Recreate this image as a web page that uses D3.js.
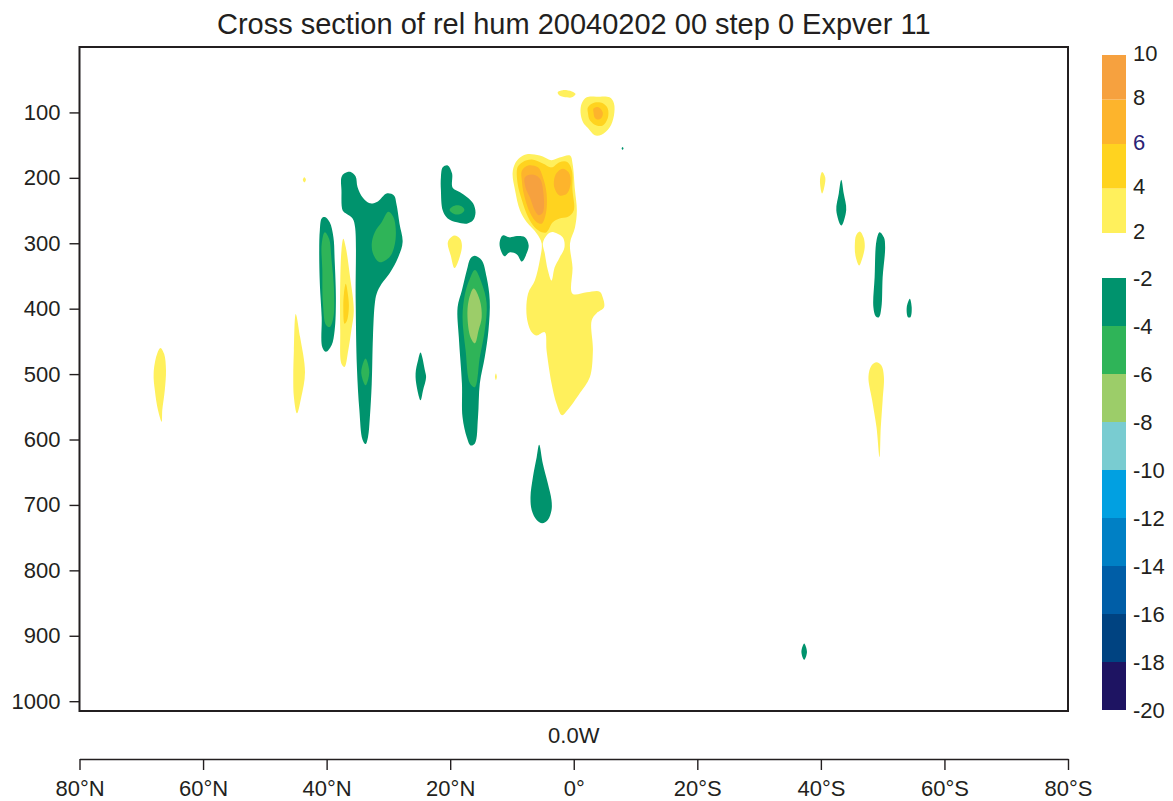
<!DOCTYPE html>
<html>
<head>
<meta charset="utf-8">
<script src="https://cdn.jsdelivr.net/npm/d3@7"></script>
<style>
  body { margin: 0; background: #fff; }
  text { font-family: "Liberation Sans", Arial, Helvetica, sans-serif; fill: #231f20; }
</style>
</head>
<body>
<div id="chart"></div>
<script>
// ---- colour bands ----
const posLevels = [2, 4, 6, 8, 10];
const posColours = ["#fff05c", "#ffd31f", "#fdb42c", "#f6a13f"];
const negLevels = [-20, -18, -16, -14, -12, -10, -8, -6, -4, -2];
const negColours = ["#1e1462", "#004381", "#005ea7", "#0080c5", "#01a0e1",
                    "#79ccd1", "#9ccd69", "#2fb458", "#00936d"];

// ---- axis ticks ----
const latTicks = [80, 60, 40, 20, 0, -20, -40, -60, -80];
const pressureTicks = [100, 200, 300, 400, 500, 600, 700, 800, 900, 1000];

// ---- contour outlines: [latitude (N +), pressure hPa] ----
// positive bands (2..4, 4..6, 6..8, 8..10)
const eqYellow = [[9.5,178],[8.7,169],[7.6,164],[5.5,166],[3.6,173],[2.3,169],[0.6,166],[0.2,178],
  [-0.2,219],[-0.5,250],[-0.2,276],[0.6,300],[0.2,337],[0.2,377],[-2.1,375],[-4.2,374],[-4.7,383],
  [-4.9,398],[-3.7,407],[-2.9,418],[-3.1,464],[-2.6,505],[-1.0,529],[1.0,555],[1.9,563],[2.8,545],
  [3.6,514],[4.4,464],[4.7,436],[6.0,441],[6.8,436],[7.6,413],[7.4,377],[6.3,357],[5.5,326],
  [5.2,300],[6.0,285],[7.6,268],[8.7,250],[9.5,219],[9.9,193]];
const eqYellowHole = [[3.6,283],[1.8,291],[1.5,306],[2.3,322],[3.1,337],[3.6,357],[4.2,341],
  [4.7,315],[5.0,300],[4.4,288]];
const eqGold = [[9.1,184],[8.3,176],[6.8,172],[5.0,178],[3.6,184],[2.3,176],[1.0,176],[0.3,189],
  [0.2,219],[0.0,250],[1.0,260],[2.3,262],[3.4,268],[4.4,283],[5.2,283],[6.3,276],[7.4,260],
  [8.4,234],[9.1,208]];
const eqOrangeW = [[8.4,189],[7.4,181],[5.8,184],[5.0,199],[4.4,224],[4.5,254],[5.2,270],[6.0,268],
  [7.1,253],[8.1,224],[8.4,204]];
const eqOrangeE = [[2.8,193],[1.8,186],[0.8,192],[0.5,208],[1.1,224],[2.3,227],[3.1,216],[3.2,204]];
const eqCore = [[7.9,199],[6.8,195],[5.5,201],[4.9,224],[5.0,253],[5.7,257],[6.3,250],[7.1,230],[7.8,215]];

const upperYellow = [[-1.3,86],[-2.1,77],[-3.7,76],[-5.8,77],[-6.5,86],[-6.5,105],[-5.8,123],
  [-4.5,134],[-3.4,135],[-2.3,124],[-1.5,115],[-1.1,100]];
const upperGold = [[-2.3,92],[-3.4,85],[-4.7,86],[-5.5,94],[-5.5,109],[-4.7,120],[-3.7,120],
  [-2.6,112],[-2.3,101]];
const upperOrange = [[-3.2,94],[-4.0,92],[-4.7,100],[-4.5,108],[-3.9,111],[-3.4,108],[-3.2,100]];
const upperFleck = [[2.6,69],[1.8,66],[0.3,68],[-0.3,72],[0.3,77],[1.1,77],[2.3,74]];

const yellow37N = [[37.3,293],[36.9,306],[36.2,352],[35.6,403],[36.0,433],[36.5,464],[37.1,489],
  [37.6,484],[37.8,433],[37.8,362],[37.6,311]];
const gold37N = [[36.9,362],[36.5,382],[36.4,398],[36.7,418],[37.1,423],[37.3,398],[37.2,377]];
const yellow45N = [[45.0,408],[44.3,443],[43.5,497],[44.1,535],[44.8,560],[45.3,535],[45.4,504],[45.3,464]];
const yellow67N = [[66.9,460],[66.3,469],[66.0,494],[66.2,525],[66.6,555],[66.7,573],[67.3,555],
  [67.8,525],[68.0,499],[67.5,471]];
const yellowDot44N = [[43.85,203],[43.6,199],[43.35,203],[43.6,207]];
const yellow19N = [[19.3,288],[18.4,293],[18.1,303],[18.4,319],[19.3,338],[19.9,319],[20.4,300],[20.1,293]];
const yellowDot13N = [[12.75,504],[12.6,499],[12.45,504],[12.6,509]];
const yellow40S = [[-40.2,191],[-40.7,199],[-40.6,212],[-40.2,224],[-39.9,212],[-39.9,199]];
const yellow46S = [[-46.3,282],[-46.9,291],[-47.1,306],[-46.6,326],[-46.2,334],[-45.6,319],
  [-45.5,301],[-45.7,288]];
const yellow49S = [[-49.0,482],[-49.8,487],[-50.2,504],[-50.0,540],[-49.7,581],[-49.5,627],
  [-49.0,581],[-48.3,540],[-47.7,504],[-48.2,487]];

// negative bands (-2..-4, -4..-6, -6..-8)
const green34N = [[37.6,199],[37.1,193],[36.1,191],[35.3,198],[35.0,214],[34.1,231],[33.0,239],
  [31.7,236],[30.3,224],[29.1,227],[28.7,240],[28.2,270],[27.7,298],[28.4,321],[29.8,346],
  [31.1,362],[31.9,377],[32.2,392],[32.5,443],[32.7,515],[33.0,566],[33.3,596],[33.7,607],
  [34.2,600],[34.7,555],[35.1,489],[35.3,387],[35.4,275],[35.8,262],[36.8,255],[37.4,250],[37.6,219]];
const green30Ninner = [[30.0,252],[29.2,260],[28.8,280],[29.0,303],[29.8,321],[31.4,329],[32.4,318],
  [32.7,301],[32.2,283],[31.1,268]];
const green34Ninner = [[33.7,476],[33.1,497],[33.7,517],[34.4,497]];
const green40N = [[40.8,262],[40.3,260],[39.5,268],[38.9,291],[38.7,326],[38.5,387],[38.7,433],
  [39.2,456],[40.1,466],[40.7,459],[40.8,413],[41.1,362],[41.2,311],[41.1,280]];
const green40Ninner = [[40.3,283],[39.6,293],[39.2,326],[38.8,372],[38.9,413],[39.5,428],[40.1,425],
  [40.6,392],[40.7,341],[40.8,301]];
const green25N = [[24.8,467],[24.1,494],[23.9,505],[24.4,525],[24.8,540],[25.4,520],[25.6,499],[25.2,479]];
const green19N = [[21.2,184],[20.4,181],[19.7,193],[19.6,215],[18.4,222],[17.2,230],[16.3,239],
  [15.9,253],[16.3,265],[17.3,270],[18.9,268],[20.4,262],[21.2,250],[21.5,219],[21.5,199]];
const green19Ninner = [[20.1,249],[19.6,244],[18.9,242],[18.1,244],[17.7,249],[18.1,254],[18.9,256],[19.6,254]];
const green16N = [[16.0,319],[14.9,326],[14.1,352],[13.6,387],[13.8,433],[14.4,474],[15.2,514],
  [15.5,566],[16.0,606],[16.7,609],[17.3,597],[18.0,566],[18.1,514],[18.6,444],[18.8,398],
  [18.1,372],[17.3,341],[16.7,323]];
const green16Nmid = [[16.0,341],[14.9,361],[14.1,392],[14.4,433],[15.2,474],[16.0,520],[16.8,514],
  [17.5,464],[18.0,413],[17.6,377],[16.8,354]];
const green16Ncore = [[16.2,369],[15.2,387],[14.9,413],[15.4,433],[16.0,453],[16.7,444],[17.2,413],[17.0,387]];
const green10N = [[11.5,288],[10.4,291],[9.2,289],[7.9,291],[7.3,303],[7.6,315],[8.4,328],[9.2,317],
  [10.4,314],[11.2,320],[11.8,311],[12.0,299]];
const green5N = [[5.6,608],[5.0,637],[4.2,667],[3.6,693],[3.6,708],[4.2,723],[5.1,728],[6.0,723],
  [6.8,708],[7.0,688],[6.6,657],[6.0,627]];
const greenDot8S = [[-7.75,155],[-7.9,153],[-8.05,155],[-7.9,157]];
const green43S = [[-43.3,203],[-43.7,224],[-44.1,249],[-43.3,273],[-42.5,250],[-42.9,224]];
const green49S = [[-49.5,283],[-50.2,291],[-50.4,306],[-50.0,352],[-49.8,398],[-49.4,413],
  [-48.9,412],[-48.5,398],[-48.7,352],[-49.0,296]];
const green54S = [[-54.4,385],[-54.7,398],[-54.5,413],[-54.1,413],[-53.9,398]];
const green37S = [[-37.3,912],[-37.75,925],[-37.3,937],[-36.85,925]];

// band value for each outline (draw order: outer first)
const regions = [
  { value: 3, rings: [eqYellow, eqYellowHole] },
  { value: 3, rings: [upperYellow] },
  { value: 3, rings: [upperFleck] },
  { value: 3, rings: [yellow37N] },
  { value: 3, rings: [yellow45N] },
  { value: 3, rings: [yellow67N] },
  { value: 3, rings: [yellowDot44N] },
  { value: 3, rings: [yellow19N] },
  { value: 3, rings: [yellowDot13N] },
  { value: 3, rings: [yellow40S] },
  { value: 3, rings: [yellow46S] },
  { value: 3, rings: [yellow49S] },
  { value: 5, rings: [eqGold] },
  { value: 5, rings: [upperGold] },
  { value: 5, rings: [gold37N] },
  { value: 7, rings: [eqOrangeW] },
  { value: 7, rings: [eqOrangeE] },
  { value: 7, rings: [upperOrange] },
  { value: 9, rings: [eqCore] },
  { value: -3, rings: [green34N] },
  { value: -3, rings: [green40N] },
  { value: -3, rings: [green25N] },
  { value: -3, rings: [green19N] },
  { value: -3, rings: [green16N] },
  { value: -3, rings: [green10N] },
  { value: -3, rings: [green5N] },
  { value: -3, rings: [greenDot8S] },
  { value: -3, rings: [green43S] },
  { value: -3, rings: [green49S] },
  { value: -3, rings: [green54S] },
  { value: -3, rings: [green37S] },
  { value: -5, rings: [green30Ninner] },
  { value: -5, rings: [green34Ninner] },
  { value: -5, rings: [green40Ninner] },
  { value: -5, rings: [green19Ninner] },
  { value: -5, rings: [green16Nmid] },
  { value: -7, rings: [green16Ncore] }
];

class CrossSection {

  constructor(element, title) {
    this.element = element;
    this.title = title;
    this.init();
  }

  init() {
    let dv = this;

    dv.width = 1173;
    dv.height = 801;

    // plot frame
    dv.plot = { left: 79.5, right: 1068, top: 47, bottom: 711 };

    dv.svg = d3.select(dv.element)
      .append("svg")
      .attr("width", dv.width)
      .attr("height", dv.height);

    dv.x = d3.scaleLinear().domain([80, -80]).range([dv.plot.left, dv.plot.right]);
    dv.y = d3.scaleLinear().domain([0, 1015]).range([dv.plot.top, dv.plot.bottom]);

    // threshold colours, white between -2 and 2
    dv.colour = d3.scaleThreshold()
      .domain(negLevels.slice(1).concat(posLevels.slice(0, 4)))
      .range(negColours.concat(["#ffffff"], posColours));

    dv.drawTitle();
    dv.drawContours();
    dv.drawAxes();
    dv.drawColourBar();
  }

  drawTitle() {
    let dv = this;
    dv.svg.append("text")
      .attr("x", (dv.plot.left + dv.plot.right) / 2)
      .attr("y", 34)
      .attr("text-anchor", "middle")
      .attr("font-size", "29px")
      .text(dv.title);
  }

  drawContours() {
    let dv = this;

    dv.svg.append("clipPath").attr("id", "plot-clip")
      .append("rect")
      .attr("x", dv.plot.left).attr("y", dv.plot.top)
      .attr("width", dv.plot.right - dv.plot.left)
      .attr("height", dv.plot.bottom - dv.plot.top);

    const line = d3.line()
      .x(d => dv.x(d[0]))
      .y(d => dv.y(d[1]))
      .curve(d3.curveCatmullRomClosed.alpha(0.5));

    dv.svg.append("g")
      .attr("clip-path", "url(#plot-clip)")
      .selectAll("path")
      .data(regions)
      .join("path")
      .attr("d", d => d.rings.map(r => line(r)).join(""))
      .attr("fill-rule", "evenodd")
      .attr("fill", d => dv.colour(d.value));
  }

  drawAxes() {
    let dv = this;

    // frame
    dv.svg.append("rect")
      .attr("x", dv.plot.left).attr("y", dv.plot.top)
      .attr("width", dv.plot.right - dv.plot.left)
      .attr("height", dv.plot.bottom - dv.plot.top)
      .attr("fill", "none")
      .attr("stroke", "#231f20")
      .attr("stroke-width", 2);

    // pressure axis
    const yAxis = dv.svg.append("g")
      .attr("transform", "translate(" + dv.plot.left + ",0)")
      .call(d3.axisLeft(dv.y).tickValues(pressureTicks).tickFormat(d3.format("d"))
        .tickSize(10).tickPadding(9));
    yAxis.select(".domain").remove();
    yAxis.selectAll("line").attr("stroke", "#231f20").attr("stroke-width", 1.4);
    yAxis.selectAll("text").attr("font-size", "22px").attr("font-family", null).attr("fill", "#231f20");

    // longitude of the section
    dv.svg.append("text")
      .attr("x", dv.x(0))
      .attr("y", 743)
      .attr("text-anchor", "middle")
      .attr("font-size", "22px")
      .text("0.0W");

    // latitude axis
    const fmt = d => d === 0 ? "0°" : Math.abs(d) + (d > 0 ? "°N" : "°S");
    const xAxis = dv.svg.append("g")
      .attr("transform", "translate(0,759)")
      .call(d3.axisBottom(dv.x).tickValues(latTicks).tickFormat(fmt)
        .tickSize(11).tickSizeOuter(0).tickPadding(10));
    xAxis.select(".domain").attr("stroke", "#231f20").attr("stroke-width", 1.4);
    xAxis.selectAll("line").attr("stroke", "#231f20").attr("stroke-width", 1.4);
    xAxis.selectAll("text").attr("font-size", "22px").attr("font-family", null).attr("fill", "#231f20");
  }

  drawColourBar() {
    let dv = this;
    const bx = 1102, bw = 24;

    const posScale = d3.scaleLinear().domain([2, 10]).range([233, 55]);
    const negScale = d3.scaleLinear().domain([-20, -2]).range([710, 278]);

    const bar = dv.svg.append("g");

    bar.selectAll("rect.pos")
      .data(posColours)
      .join("rect")
      .attr("class", "pos")
      .attr("x", bx)
      .attr("width", bw)
      .attr("y", (c, i) => posScale(posLevels[i + 1]))
      .attr("height", (c, i) => posScale(posLevels[i]) - posScale(posLevels[i + 1]))
      .attr("fill", c => c);

    bar.selectAll("rect.neg")
      .data(negColours)
      .join("rect")
      .attr("class", "neg")
      .attr("x", bx)
      .attr("width", bw)
      .attr("y", (c, i) => negScale(negLevels[i + 1]))
      .attr("height", (c, i) => negScale(negLevels[i]) - negScale(negLevels[i + 1]))
      .attr("fill", c => c);

    bar.selectAll("text.pos")
      .data(posLevels)
      .join("text")
      .attr("class", "pos")
      .attr("x", bx + bw + 7)
      .attr("y", d => posScale(d) - 2)
      .attr("dy", "0.36em")
      .attr("font-size", "22px")
      .style("fill", d => d === 6 ? "#2b2275" : "#231f20")
      .text(d => d);

    bar.selectAll("text.neg")
      .data(negLevels)
      .join("text")
      .attr("class", "neg")
      .attr("x", bx + bw + 7)
      .attr("y", d => negScale(d))
      .attr("dy", "0.36em")
      .attr("font-size", "22px")
      .text(d => d);
  }
}

new CrossSection("#chart", "Cross section of rel hum 20040202 00 step 0 Expver 11");
</script>
</body>
</html>
